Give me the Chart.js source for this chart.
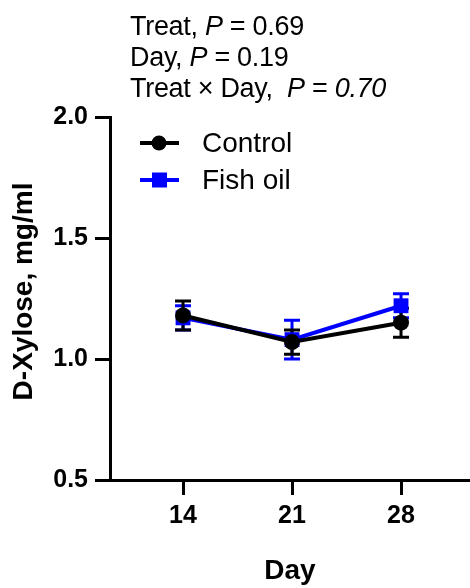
<!DOCTYPE html>
<html>
<head>
<meta charset="utf-8">
<title>D-Xylose</title>
<script src="https://cdn.jsdelivr.net/npm/chart.js@4.4.1/dist/chart.umd.min.js"></script>
<style>
  body { margin: 0; background: #fff; }
  #wrap { position: relative; width: 470px; height: 588px; }
  #stats {
    position: absolute; left: 130px; top: 11px;
    font: 27px "Liberation Sans", Arial, sans-serif;
    letter-spacing: -0.3px;
    line-height: 31px; color: #000; white-space: nowrap;
  }
</style>
</head>
<body>
<div id="wrap">
  <canvas id="grafica" width="470" height="588"></canvas>
  <div id="stats">
    <div>Treat, <i>P</i> = 0.69</div>
    <div>Day, <i>P</i> = 0.19</div>
    <div>Treat × Day,&nbsp; <i>P</i> = <i>0.70</i></div>
  </div>
</div>
<script>
const days = [14, 21, 28];
const control = [1.18, 1.07, 1.15];
const controlErr = [0.06, 0.05, 0.06];
const fishOil = [1.17, 1.08, 1.22];
const fishOilErr = [0.05, 0.08, 0.05];
const yTicks = [0.5, 1.0, 1.5, 2.0];

const FONT = '"Liberation Sans", Arial, sans-serif';

// error bars drawn under the markers
const errorBars = {
  id: 'errorBars',
  beforeDatasetsDraw(chart) {
    const ctx = chart.ctx;
    const y = chart.scales.y;
    for (let d = chart.data.datasets.length - 1; d >= 0; d--) {
      const ds = chart.data.datasets[d];
      const meta = chart.getDatasetMeta(d);
      ctx.save();
      ctx.strokeStyle = ds.borderColor;
      ctx.lineWidth = 3;
      meta.data.forEach((pt, i) => {
        const v = ds.data[i].y;
        const top = y.getPixelForValue(v + ds.err[i]);
        const bot = y.getPixelForValue(v - ds.err[i]);
        ctx.beginPath();
        ctx.moveTo(pt.x, top); ctx.lineTo(pt.x, bot);
        ctx.moveTo(pt.x - 8, top); ctx.lineTo(pt.x + 8, top);
        ctx.moveTo(pt.x - 8, bot); ctx.lineTo(pt.x + 8, bot);
        ctx.stroke();
      });
      ctx.restore();
    }
  }
};

// legend in the upper left of the plot + y axis title
const legendBox = {
  id: 'legendBox',
  afterDraw(chart) {
    const ctx = chart.ctx;
    const rows = [
      { label: 'Control', color: '#000000', style: 'circle', y: 143 },
      { label: 'Fish oil', color: '#0000ff', style: 'rect', y: 180 }
    ];
    ctx.save();
    rows.forEach(r => {
      ctx.strokeStyle = r.color;
      ctx.fillStyle = r.color;
      ctx.lineWidth = 4;
      ctx.beginPath();
      ctx.moveTo(140, r.y); ctx.lineTo(179, r.y);
      ctx.stroke();
      if (r.style === 'circle') {
        ctx.beginPath();
        ctx.arc(159, r.y, 7.5, 0, Math.PI * 2);
        ctx.fill();
      } else {
        ctx.fillRect(152, r.y - 7.5, 15, 15);
      }
      ctx.fillStyle = '#000';
      ctx.font = '28px ' + FONT;
      ctx.textBaseline = 'middle';
      ctx.fillText(r.label, 202, r.y + 1);
    });

    // y title
    ctx.translate(24, 291.5);
    ctx.rotate(-Math.PI / 2);
    ctx.font = 'bold 28px ' + FONT;
    ctx.textAlign = 'center';
    ctx.textBaseline = 'middle';
    ctx.fillStyle = '#000';
    ctx.fillText('D-Xylose, mg/ml', 0, 0);
    ctx.restore();
  }
};

new Chart(document.getElementById('grafica'), {
  type: 'line',
  data: {
    datasets: [
      {
        label: 'Control',
        data: days.map((d, i) => ({ x: d, y: control[i] })),
        err: controlErr,
        borderColor: '#000000',
        backgroundColor: '#000000',
        borderWidth: 4,
        pointStyle: 'circle',
        pointRadius: 8,
        pointBorderWidth: 0,
        tension: 0
      },
      {
        label: 'Fish oil',
        data: days.map((d, i) => ({ x: d, y: fishOil[i] })),
        err: fishOilErr,
        borderColor: '#0000ff',
        backgroundColor: '#0000ff',
        borderWidth: 4,
        pointStyle: 'rect',
        pointRadius: 10.5,
        pointBorderWidth: 0,
        tension: 0
      }
    ]
  },
  options: {
    responsive: false,
    animation: false,
    devicePixelRatio: 1,
    layout: { autoPadding: false, padding: { top: 117, right: 0, left: 0, bottom: 0 } },
    plugins: { legend: { display: false }, tooltip: { enabled: false } },
    scales: {
      x: {
        type: 'linear',
        min: 9.31,
        max: 32.43,
        afterBuildTicks: s => { s.ticks = days.map(v => ({ value: v })); },
        afterFit: s => { s.height = 108; },
        border: { color: '#000', width: 3 },
        grid: { drawOnChartArea: false, drawTicks: true, tickLength: 15, color: '#000', lineWidth: 3 },
        ticks: {
          color: '#000', padding: 6,
          font: { family: FONT, size: 25, weight: 'bold' },
          callback: v => String(v)
        },
        title: {
          display: true, text: 'Day', color: '#000',
          font: { family: FONT, size: 28, weight: 'bold' },
          padding: { top: 0, bottom: 0 }
        }
      },
      y: {
        min: 0.5,
        max: 2.0,
        afterBuildTicks: s => { s.ticks = yTicks.map(v => ({ value: v })); },
        afterFit: s => { s.width = 110; },
        border: { color: '#000', width: 3 },
        grid: { drawOnChartArea: false, drawTicks: true, tickLength: 15, color: '#000', lineWidth: 3 },
        ticks: {
          color: '#000', padding: 7,
          font: { family: FONT, size: 25, weight: 'bold' },
          callback: v => v.toFixed(1)
        },
        title: { display: false }
      }
    }
  },
  plugins: [errorBars, legendBox]
});
</script>
</body>
</html>
